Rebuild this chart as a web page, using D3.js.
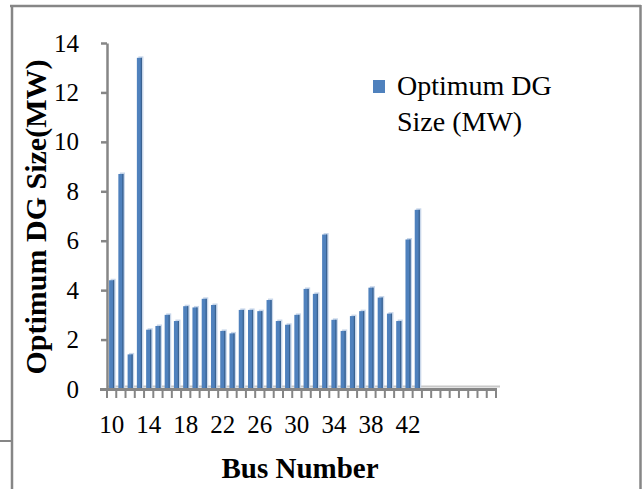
<!DOCTYPE html>
<head>
  <meta charset="utf-8">
  <script src="https://cdn.jsdelivr.net/npm/d3@7"></script>
  <style>
    body { margin: 0; background: #fff; }
    text { font-family: "Liberation Serif", "Times New Roman", serif; }
  </style>
</head>
<body>
<div id="container"></div>
<script>

  // bus numbers that carry a DG and their optimum size (MW)
  let busNumbers = [10, 11, 12, 13, 14, 15, 16, 17, 18, 19, 20, 21, 22, 23, 24, 25, 26,
                    27, 28, 29, 30, 31, 32, 33, 34, 35, 36, 37, 38, 39, 40, 41, 42, 43];
  let dgSize = [4.4, 8.7, 1.4, 13.4, 2.4, 2.55, 3.0, 2.75, 3.35, 3.3, 3.65, 3.4, 2.35, 2.25, 3.2, 3.2, 3.15,
                3.6, 2.75, 2.6, 3.0, 4.05, 3.85, 6.25, 2.8, 2.35, 2.95, 3.15, 4.1, 3.7, 3.05, 2.75, 6.05, 7.25];
  // empty categories the axis still runs over
  let emptyBuses = [44, 45, 46, 47, 48, 49, 50, 51];
  let xTickLabels = [10, 14, 18, 22, 26, 30, 34, 38, 42];
  let yTickLabels = [0, 2, 4, 6, 8, 10, 12, 14];

  let svg_width = 642;
  let svg_height = 489;

  let padding = { top: 43, right: 146, bottom: 100, left: 107 };

  let axisGray = "#868686";

  let svg = d3.select("#container").append("svg")
          .attr("width", svg_width)
          .attr("height", svg_height);

  // frame of the table cell the chart sits in
  svg.append("line").attr("x1", 10).attr("x2", 641).attr("y1", 6).attr("y2", 6)
          .attr("stroke", axisGray).attr("stroke-width", 2.5);
  svg.append("line").attr("x1", 12).attr("x2", 12).attr("y1", 5).attr("y2", svg_height)
          .attr("stroke", axisGray).attr("stroke-width", 2.5);
  svg.append("line").attr("x1", 640.5).attr("x2", 640.5).attr("y1", 5).attr("y2", svg_height)
          .attr("stroke", axisGray).attr("stroke-width", 2.5);
  svg.append("line").attr("x1", 0).attr("x2", 12).attr("y1", 441).attr("y2", 441)
          .attr("stroke", axisGray).attr("stroke-width", 2);

  let allBuses = busNumbers.concat(emptyBuses);

  let xScale = d3.scaleBand()
          .domain(allBuses)
          .range([padding.left, svg_width - padding.right])
          .padding(0);

  let yScale = d3.scaleLinear()
          .domain([0, 14])
          .range([svg_height - padding.bottom, padding.top]);

  let baseY = yScale(0);

  // floor of the 3d plot
  svg.append("line")
          .attr("x1", padding.left).attr("x2", svg_width - padding.right + 4)
          .attr("y1", baseY - 2.5).attr("y2", baseY - 2.5)
          .attr("stroke", "#c8c8c8").attr("stroke-width", 2);

  // bars: light shadow, main face, dark edge
  let bw = xScale.bandwidth() * 0.55;
  let data = busNumbers.map(function (d, i) { return { bus: d, size: dgSize[i] }; });

  svg.selectAll(".shadow")
          .data(data)
          .enter()
          .append("rect")
          .attr("class", "shadow")
          .attr("x", function (d) { return xScale(d.bus) + (xScale.bandwidth() - bw) / 2 + 1.5; })
          .attr("y", function (d) { return yScale(d.size) - 1.5; })
          .attr("width", bw)
          .attr("height", function (d) { return baseY - yScale(d.size) + 1.5; })
          .attr("fill", "#c9d7ea");

  svg.selectAll(".bar")
          .data(data)
          .enter()
          .append("rect")
          .attr("class", "bar")
          .attr("x", function (d) { return xScale(d.bus) + (xScale.bandwidth() - bw) / 2; })
          .attr("y", function (d) { return yScale(d.size); })
          .attr("width", bw)
          .attr("height", function (d) { return baseY - yScale(d.size); })
          .attr("fill", "#4f81bd");

  svg.selectAll(".edge")
          .data(data)
          .enter()
          .append("rect")
          .attr("class", "edge")
          .attr("x", function (d) { return xScale(d.bus) + (xScale.bandwidth() + bw) / 2 - 1.2; })
          .attr("y", function (d) { return yScale(d.size); })
          .attr("width", 1.2)
          .attr("height", function (d) { return baseY - yScale(d.size); })
          .attr("fill", "#3a6290");

  // x axis line and category boundary ticks
  svg.append("line")
          .attr("x1", padding.left - 7).attr("x2", svg_width - padding.right + 1)
          .attr("y1", baseY + 0.5).attr("y2", baseY + 0.5)
          .attr("stroke", axisGray).attr("stroke-width", 3);

  let boundaries = allBuses.map(function (d) { return xScale(d); });
  boundaries.push(xScale.range()[1]);

  svg.selectAll(".xtick")
          .data(boundaries)
          .enter()
          .append("line")
          .attr("class", "xtick")
          .attr("x1", function (d) { return d; })
          .attr("x2", function (d) { return d; })
          .attr("y1", baseY + 1)
          .attr("y2", baseY + 9)
          .attr("stroke", axisGray)
          .attr("stroke-width", 2);

  let x_axis = d3.axisBottom(xScale)
          .tickValues(xTickLabels)
          .tickSize(0)
          .tickPadding(26);

  let gx = svg.append("g")
          .attr("transform", "translate(0," + baseY + ")")
          .call(x_axis);
  gx.select(".domain").remove();
  gx.selectAll("text")
          .attr("fill", "#000")
          .style("font-size", "25px");

  let y_axis = d3.axisLeft(yScale)
          .tickValues(yTickLabels)
          .tickSize(6)
          .tickSizeOuter(0)
          .tickPadding(22);

  let gy = svg.append("g")
          .attr("transform", "translate(" + padding.left + ",0)")
          .call(y_axis);
  gy.select(".domain").attr("stroke", axisGray).attr("stroke-width", 2.5);
  gy.selectAll(".tick line").attr("stroke", axisGray).attr("stroke-width", 2.5);
  gy.selectAll("text")
          .attr("fill", "#000")
          .style("font-size", "25px");

  // axis titles
  svg.append("text")
          .attr("x", 300)
          .attr("y", 478)
          .style("text-anchor", "middle")
          .style("font-size", "29px")
          .style("font-weight", "bold")
          .text("Bus Number");

  svg.append("text")
          .attr("transform", "translate(46,217) rotate(-90)")
          .style("text-anchor", "middle")
          .style("font-size", "30px")
          .style("font-weight", "bold")
          .text("Optimum DG Size(MW)");

  // legend
  svg.append("rect")
          .attr("x", 373)
          .attr("y", 80)
          .attr("width", 12)
          .attr("height", 13)
          .attr("fill", "#4f81bd");

  svg.append("text")
          .attr("x", 397)
          .attr("y", 95)
          .style("font-size", "28px")
          .text("Optimum DG");

  svg.append("text")
          .attr("x", 397)
          .attr("y", 131)
          .style("font-size", "28px")
          .text("Size (MW)");

</script>
</body>
